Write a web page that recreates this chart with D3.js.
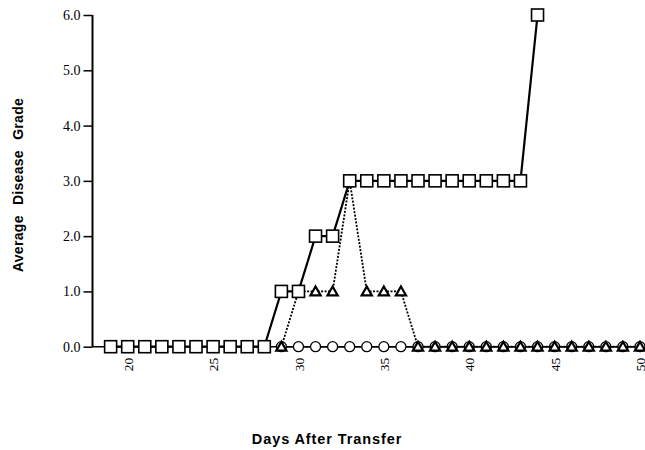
<!DOCTYPE html>
<html><head><meta charset="utf-8">
<script src="https://cdn.jsdelivr.net/npm/d3@7"></script>
<style>body{margin:0;background:#fff}svg{display:block}</style>
</head><body>
<svg id="c" width="645" height="450"></svg>
<script>
const squareDays = [19,20,21,22,23,24,25,26,27,28,29,30,31,32,33,34,35,36,37,38,39,40,41,42,43,44];
const squareVals = [0,0,0,0,0,0,0,0,0,0,1,1,2,2,3,3,3,3,3,3,3,3,3,3,3,6];
const triangleDays = [29,30,31,32,33,34,35,36,37,38,39,40,41,42,43,44,45,46,47,48,49,50];
const triangleVals = [0,1,1,1,3,1,1,1,0,0,0,0,0,0,0,0,0,0,0,0,0,0];
const circleDays = [29,30,31,32,33,34,35,36,37,38,39,40,41,42,43,44,45,46,47,48,49,50];
const circleVals = [0,0,0,0,0,0,0,0,0,0,0,0,0,0,0,0,0,0,0,0,0,0];
const xTicks = [20,25,30,35,40,45,50];
const yTicks = [0,1,2,3,4,5,6];
const xTitle = "Days After Transfer";
const yTitle = "Average Disease Grade";

const svg = d3.select("#c");
const x = d3.scaleLinear().domain([20,50]).range([127.7,640]);
const y = d3.scaleLinear().domain([0,6]).range([346.7,15]);
const axisX = 92.5;
const serif = "Liberation Serif, Times New Roman, serif";

// y axis
const ya = svg.append("g").attr("transform",`translate(${axisX},0)`)
  .call(d3.axisLeft(y).tickValues(yTicks).tickFormat(d3.format(".1f")).tickSize(9).tickPadding(3));
ya.select(".domain").attr("stroke","#000").attr("stroke-width",2).attr("d",`M0,${y(6)}V${y(0)}`);
ya.selectAll(".tick line").attr("stroke","#000").attr("stroke-width",1.5);
ya.selectAll(".tick text").attr("font-family",serif).attr("font-size",14).attr("fill","#000");

// x axis
const xa = svg.append("g").attr("transform",`translate(0,${y(0)})`)
  .call(d3.axisBottom(x).tickValues(xTicks).tickSize(5).tickPadding(0));
xa.select(".domain").attr("stroke","#000").attr("stroke-width",1.5).attr("d",`M${axisX},0H645`);
xa.selectAll(".tick line").attr("stroke","#000").attr("stroke-width",1.5);
xa.selectAll(".tick text").attr("font-family",serif).attr("font-size",13.5).attr("fill","#000")
  .attr("transform","rotate(-90)").attr("text-anchor","end").attr("dy","0.35em").attr("x",-11).attr("y",0);

function series(days, vals){ return days.map((d,i)=>({x:d,y:vals[i]})); }
const line = d3.line().x(d=>x(d.x)).y(d=>y(d.y));

const circ = series(circleDays, circleVals);
const tri = series(triangleDays, triangleVals);
const sq = series(squareDays, squareVals);

// circles
svg.append("path").datum(circ).attr("d",line).attr("fill","none").attr("stroke","#000").attr("stroke-width",1.5);
svg.append("g").selectAll("circle").data(circ).join("circle")
  .attr("cx",d=>x(d.x)).attr("cy",d=>y(d.y)).attr("r",5).attr("fill","#fff").attr("stroke","#000").attr("stroke-width",1.3);

// triangles
svg.append("path").datum(tri).attr("d",line).attr("fill","none").attr("stroke","#000").attr("stroke-width",1.8).attr("stroke-dasharray","2,1.5");
const tsym = d3.symbol().type(d3.symbolTriangle).size(45);
svg.append("g").selectAll("path").data(tri).join("path")
  .attr("transform",d=>`translate(${x(d.x)},${y(d.y)+1})`).attr("d",tsym)
  .attr("fill","#fff").attr("stroke","#000").attr("stroke-width",2.2);

// squares
svg.append("path").datum(sq).attr("d",line).attr("fill","none").attr("stroke","#000").attr("stroke-width",2.2);
svg.append("g").selectAll("rect").data(sq).join("rect")
  .attr("x",d=>x(d.x)-6).attr("y",d=>y(d.y)-6).attr("width",12).attr("height",12)
  .attr("fill","#fff").attr("stroke","#000").attr("stroke-width",1.6);

// titles
svg.append("text").attr("x",327).attr("y",444).attr("text-anchor","middle")
  .attr("font-family","Liberation Sans, Arial, sans-serif").attr("font-weight","bold").attr("font-size",14.5)
  .attr("letter-spacing",0.9).attr("fill","#000").text(xTitle);
svg.append("text").attr("transform","translate(23,185) rotate(-90)").attr("text-anchor","middle")
  .attr("font-family","Liberation Sans, Arial, sans-serif").attr("font-weight","bold").attr("font-size",14)
  .attr("letter-spacing",0.3).attr("word-spacing",6).attr("fill","#000").text(yTitle);
</script>
</body></html>
